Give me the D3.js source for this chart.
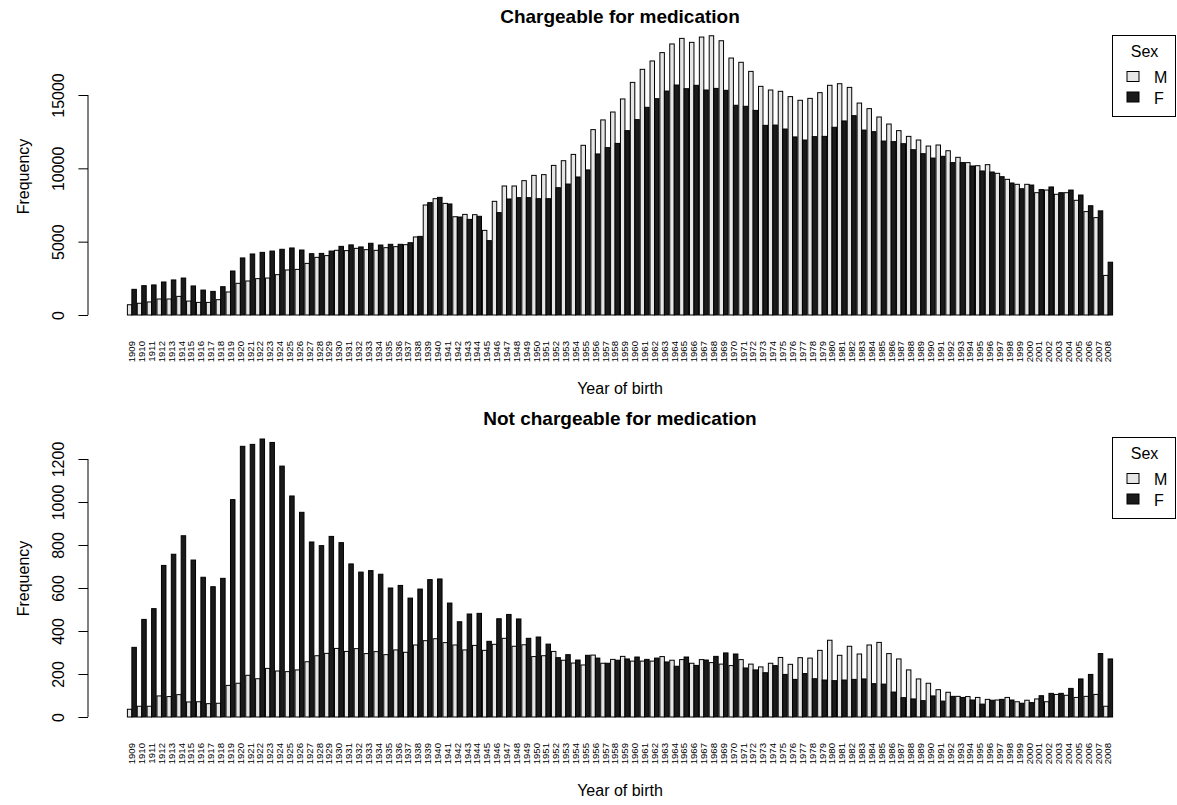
<!DOCTYPE html>
<html>
<head>
<meta charset="utf-8">
<script src="https://cdn.jsdelivr.net/npm/d3@7"></script>
<style>
    body { margin: 0; background: #fff; }
    svg text { font-family: "Liberation Sans", Arial, Helvetica, sans-serif; fill: #000; }
</style>
</head>
<body>
<div id="chart"></div>
<script>
'use strict';

const years = d3.range(1909, 2009);
const sexes = ['M', 'F'];
const sexColors = ['#e6e6e6', '#1a1a1a'];

// chargeable for medication, by year of birth (1909..2008)
const chargeM = [
    700, 800, 890, 1090, 1090, 1270, 950, 860, 860, 1045,
    1570, 2160, 2320, 2480, 2520, 2750, 3070, 3110, 3520, 3930,
    4050, 4410, 4390, 4545, 4455, 4410, 4590, 4660, 4795, 5320,
    7500, 7930, 7610, 6700, 6860, 6840, 5770, 7750, 8795, 8795,
    9160, 9520, 9570, 10200, 10520, 10950, 11570, 12640, 13300, 13840,
    14730, 15860, 16750, 17320, 17890, 18480, 18860, 18590, 18950, 19040,
    18700, 17520, 17230, 16610, 15590, 15340, 15250, 14890, 14640, 14770,
    15160, 15660, 15770, 15520, 14450, 14070, 13500, 13020, 12570, 12180,
    11930, 11520, 11590, 11200, 10750, 10390, 10180, 10250, 9660, 9250,
    8910, 8910, 8340, 8520, 8230, 8340, 7820, 7050, 6640, 2700
];
const chargeF = [
    1750, 2000, 2050, 2250, 2390, 2520, 1980, 1700, 1610, 1930,
    3000, 3890, 4160, 4270, 4360, 4480, 4570, 4430, 4180, 4200,
    4360, 4680, 4780, 4640, 4890, 4770, 4820, 4820, 4930, 5360,
    7660, 8020, 7570, 6680, 6520, 6730, 5070, 6980, 7910, 8000,
    8000, 7930, 7930, 8680, 8930, 9410, 9890, 10980, 11410, 11700,
    12570, 13320, 14160, 14750, 15270, 15680, 15430, 15660, 15340, 15450,
    15320, 14300, 14230, 13950, 12930, 12950, 12680, 12140, 11930, 12160,
    12180, 12800, 13230, 13590, 12610, 12500, 11860, 11820, 11680, 11270,
    11000, 10700, 10820, 10390, 10390, 10160, 9820, 9750, 9430, 9000,
    8610, 8860, 8550, 8730, 8340, 8520, 8180, 7450, 7100, 3600
];

// not chargeable for medication
const notChargeM = [
    36, 50, 50, 98, 95, 104, 70, 71, 62, 64,
    147, 157, 194, 178, 226, 214, 211, 219, 257, 285,
    296, 319, 305, 318, 295, 304, 290, 312, 301, 335,
    355, 364, 346, 335, 312, 333, 310, 338, 366, 329,
    336, 281, 285, 305, 264, 251, 242, 288, 250, 268,
    282, 260, 260, 260, 281, 264, 267, 250, 267, 253,
    246, 239, 267, 246, 233, 250, 277, 245, 276, 274,
    310, 357, 287, 329, 293, 335, 347, 295, 270, 219,
    177, 157, 127, 115, 96, 95, 91, 82, 79, 91,
    71, 78, 84, 71, 105, 101, 91, 96, 105, 50
];
const notChargeF = [
    324, 454, 504, 705, 757, 843, 730, 650, 606, 645,
    1011, 1259, 1268, 1293, 1277, 1167, 1028, 952, 814, 797,
    840, 811, 712, 674, 681, 664, 600, 612, 553, 595,
    639, 642, 530, 443, 479, 482, 352, 457, 477, 456,
    366, 372, 339, 276, 290, 265, 287, 274, 250, 264,
    270, 279, 268, 274, 256, 236, 279, 240, 265, 282,
    298, 293, 228, 219, 206, 239, 198, 175, 202, 178,
    172, 169, 172, 175, 177, 155, 153, 116, 90, 84,
    76, 98, 74, 96, 91, 79, 60, 78, 82, 79,
    64, 67, 99, 110, 110, 133, 177, 198, 295, 270
];

const chargeTicks = [0, 5000, 10000, 15000];
const notChargeTicks = [0, 200, 400, 600, 800, 1000, 1200];

class SexBarPanel {

    constructor(svg, offsetY, options) {
        this.svg = svg;
        this.offsetY = offsetY;
        this.options = options;

        this.plotLeft = 88;
        this.plotRight = 1152;
        this.plotTop = 24;
        this.plotBottom = 329;
    }

    render() {
        let self = this;
        let o = this.options;
        let g = this.svg.append('g')
            .attr('transform', 'translate(0,' + this.offsetY + ')');

        // R barplot: xlim padded 4%, bars width 1, space c(0, 0.2)
        let unit = (this.plotRight - this.plotLeft) / 237.38;
        let x = d3.scaleBand()
            .domain(years)
            .range([this.plotLeft + 8.79 * unit, this.plotRight - 8.79 * unit])
            .paddingInner(0.2 / 2.2)
            .paddingOuter(0);
        let xSex = d3.scaleBand()
            .domain(sexes)
            .range([0, x.bandwidth()]);
        let y = d3.scaleLinear()
            .domain([0, o.ticks[o.ticks.length - 1]])
            .range([o.zeroY, o.topTickY]);

        let rows = years.map(function (yr, i) {
            return { year: yr, values: [o.male[i], o.female[i]] };
        });

        let groups = g.selectAll('.year').data(rows).enter().append('g')
            .attr('class', 'year')
            .attr('transform', function (d) { return 'translate(' + x(d.year) + ',0)'; });

        groups.selectAll('rect').data(function (d) {
            return d.values.map(function (v, k) { return { sex: sexes[k], value: v, k: k }; });
        }).enter().append('rect')
            .attr('x', function (d) { return xSex(d.sex); })
            .attr('width', xSex.bandwidth())
            .attr('y', function (d) { return y(d.value); })
            .attr('height', function (d) { return y(0) - y(d.value); })
            .style('fill', function (d) { return sexColors[d.k]; })
            .style('stroke', '#000')
            .style('stroke-width', 1);

        // year labels (las = 2)
        g.selectAll('.year-label').data(years).enter().append('text')
            .attr('class', 'year-label')
            .attr('transform', function (d) {
                return 'translate(' + (x(d) + x.bandwidth() / 2) + ',' + (self.plotBottom + 12) + ') rotate(-90)';
            })
            .attr('dy', '0.35em')
            .style('text-anchor', 'end')
            .style('font-size', '9.6px')
            .text(function (d) { return d; });

        // y axis
        let yAxis = d3.axisLeft(y)
            .tickValues(o.ticks)
            .tickSize(9.6)
            .tickPadding(0)
            .tickFormat(d3.format('d'));
        let axisG = g.append('g')
            .attr('transform', 'translate(' + this.plotLeft + ',0)')
            .call(yAxis);
        axisG.select('.domain')
            .attr('d', 'M0,' + y(0) + 'V' + y(o.ticks[o.ticks.length - 1]))
            .style('stroke', '#000');
        axisG.selectAll('.tick line').style('stroke', '#000');
        axisG.selectAll('.tick text')
            .attr('x', null).attr('dy', null)
            .attr('transform', 'translate(-24,0) rotate(-90)')
            .style('text-anchor', 'middle')
            .style('font-family', '"Liberation Sans", Arial, sans-serif')
            .style('font-size', '16px')
            .style('fill', '#000');

        // titles
        g.append('text')
            .text(o.title)
            .attr('x', (this.plotLeft + this.plotRight) / 2)
            .attr('y', 23)
            .style('text-anchor', 'middle')
            .style('font-weight', 'bold')
            .style('font-size', '19px');

        g.append('text')
            .text('Year of birth')
            .attr('x', (this.plotLeft + this.plotRight) / 2)
            .attr('y', 394)
            .style('text-anchor', 'middle')
            .style('font-size', '16px');

        g.append('text')
            .text('Frequency')
            .attr('transform', 'translate(29,' + ((this.plotTop + this.plotBottom) / 2) + ') rotate(-90)')
            .style('text-anchor', 'middle')
            .style('font-size', '16px');

        this.renderLegend(g);
    }

    renderLegend(g) {
        let lg = g.append('g').attr('class', 'legend');

        lg.append('rect')
            .attr('x', 1112.5).attr('y', 35.5)
            .attr('width', 63).attr('height', 81)
            .style('fill', '#fff')
            .style('stroke', '#000');

        lg.append('text')
            .text('Sex')
            .attr('x', 1144.5).attr('y', 57)
            .style('text-anchor', 'middle')
            .style('font-size', '16px');

        sexes.forEach(function (s, k) {
            lg.append('rect')
                .attr('x', 1127).attr('y', 71.5 + k * 20.5)
                .attr('width', 12).attr('height', 10)
                .style('fill', sexColors[k])
                .style('stroke', '#000');
            lg.append('text')
                .text(s)
                .attr('x', 1154).attr('y', 83 + k * 20.5)
                .style('font-size', '16px');
        });
    }
}

const svg = d3.select('#chart').append('svg')
    .attr('width', 1177)
    .attr('height', 805);

new SexBarPanel(svg, 0, {
    title: 'Chargeable for medication',
    male: chargeM,
    female: chargeF,
    ticks: chargeTicks,
    zeroY: 315,
    topTickY: 95
}).render();

new SexBarPanel(svg, 402, {
    title: 'Not chargeable for medication',
    male: notChargeM,
    female: notChargeF,
    ticks: notChargeTicks,
    zeroY: 315,
    topTickY: 57
}).render();
</script>
</body>
</html>
